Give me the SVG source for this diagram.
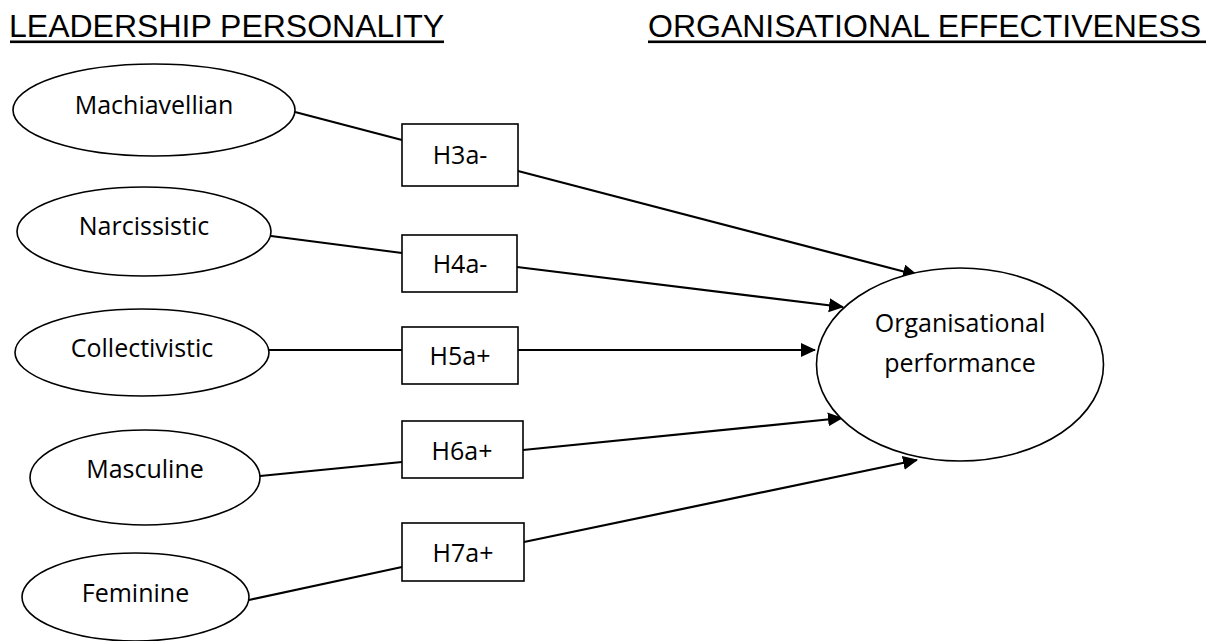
<svg xmlns="http://www.w3.org/2000/svg" width="1217" height="641" viewBox="0 0 1217 641">
<style>
.title{font-family:"Liberation Sans",Arial,sans-serif;font-size:32px;fill:#000}
.lbl{font-family:"Open Sans","Noto Sans",sans-serif;font-size:25px;fill:#000;text-anchor:middle}
.node{fill:#fff;stroke:#000;stroke-width:1.6}
.conn{stroke:#000;stroke-width:2.2;fill:none}
</style>
<defs>
<marker id="arr" markerUnits="userSpaceOnUse" markerWidth="16" markerHeight="16" refX="14" refY="7" orient="auto">
<path d="M0,0 L15,7 L0,14 z" fill="#000"/>
</marker>
</defs>
<rect width="1217" height="641" fill="#fff"/>
<g id="titles">
<text class="title" x="9" y="37">LEADERSHIP PERSONALITY</text>
<rect x="10" y="40.5" width="434" height="2.6" fill="#000"/>
<text class="title" x="648" y="37">ORGANISATIONAL EFFECTIVENESS</text>
<rect x="648" y="40.5" width="558" height="2.6" fill="#000"/>
</g>
<g id="connectors">
<line class="conn" x1="295" y1="112" x2="402" y2="140"/>
<line class="conn" x1="518" y1="171" x2="917" y2="275" marker-end="url(#arr)"/>
<line class="conn" x1="271" y1="236" x2="402" y2="253"/>
<line class="conn" x1="517" y1="267" x2="843" y2="307" marker-end="url(#arr)"/>
<line class="conn" x1="269" y1="350" x2="402" y2="350"/>
<line class="conn" x1="518" y1="350" x2="815" y2="350" marker-end="url(#arr)"/>
<line class="conn" x1="260" y1="476" x2="402" y2="462"/>
<line class="conn" x1="523" y1="450" x2="842" y2="418" marker-end="url(#arr)"/>
<line class="conn" x1="249" y1="600" x2="402" y2="567"/>
<line class="conn" x1="524" y1="542" x2="917" y2="460" marker-end="url(#arr)"/>
</g>
<g id="machiavellian">
<ellipse class="node" cx="154" cy="110" rx="141" ry="46"/>
<text class="lbl" x="154" y="114">Machiavellian</text>
</g>
<g id="narcissistic">
<ellipse class="node" cx="144" cy="231.5" rx="127" ry="44.5"/>
<text class="lbl" x="144" y="235">Narcissistic</text>
</g>
<g id="collectivistic">
<ellipse class="node" cx="142" cy="352.5" rx="127" ry="43.5"/>
<text class="lbl" x="142" y="357">Collectivistic</text>
</g>
<g id="masculine">
<ellipse class="node" cx="145" cy="477.5" rx="115" ry="47.5"/>
<text class="lbl" x="145" y="478">Masculine</text>
</g>
<g id="feminine">
<ellipse class="node" cx="135.5" cy="597" rx="113.5" ry="44"/>
<text class="lbl" x="135.5" y="602">Feminine</text>
</g>
<g id="h3a">
<rect class="node" x="402" y="124" width="116" height="62"/>
<text class="lbl" x="460" y="164">H3a-</text>
</g>
<g id="h4a">
<rect class="node" x="402" y="235" width="115" height="57"/>
<text class="lbl" x="460" y="273">H4a-</text>
</g>
<g id="h5a">
<rect class="node" x="402" y="327" width="116" height="57"/>
<text class="lbl" x="460" y="365">H5a+</text>
</g>
<g id="h6a">
<rect class="node" x="402" y="421" width="121" height="57"/>
<text class="lbl" x="462" y="460">H6a+</text>
</g>
<g id="h7a">
<rect class="node" x="402" y="523" width="122" height="58"/>
<text class="lbl" x="463" y="562">H7a+</text>
</g>
<g id="organisational-performance">
<ellipse class="node" cx="960" cy="364.5" rx="143.5" ry="96.5"/>
<text class="lbl" x="960" y="332">Organisational</text>
<text class="lbl" x="960" y="372">performance</text>
</g>
</svg>
